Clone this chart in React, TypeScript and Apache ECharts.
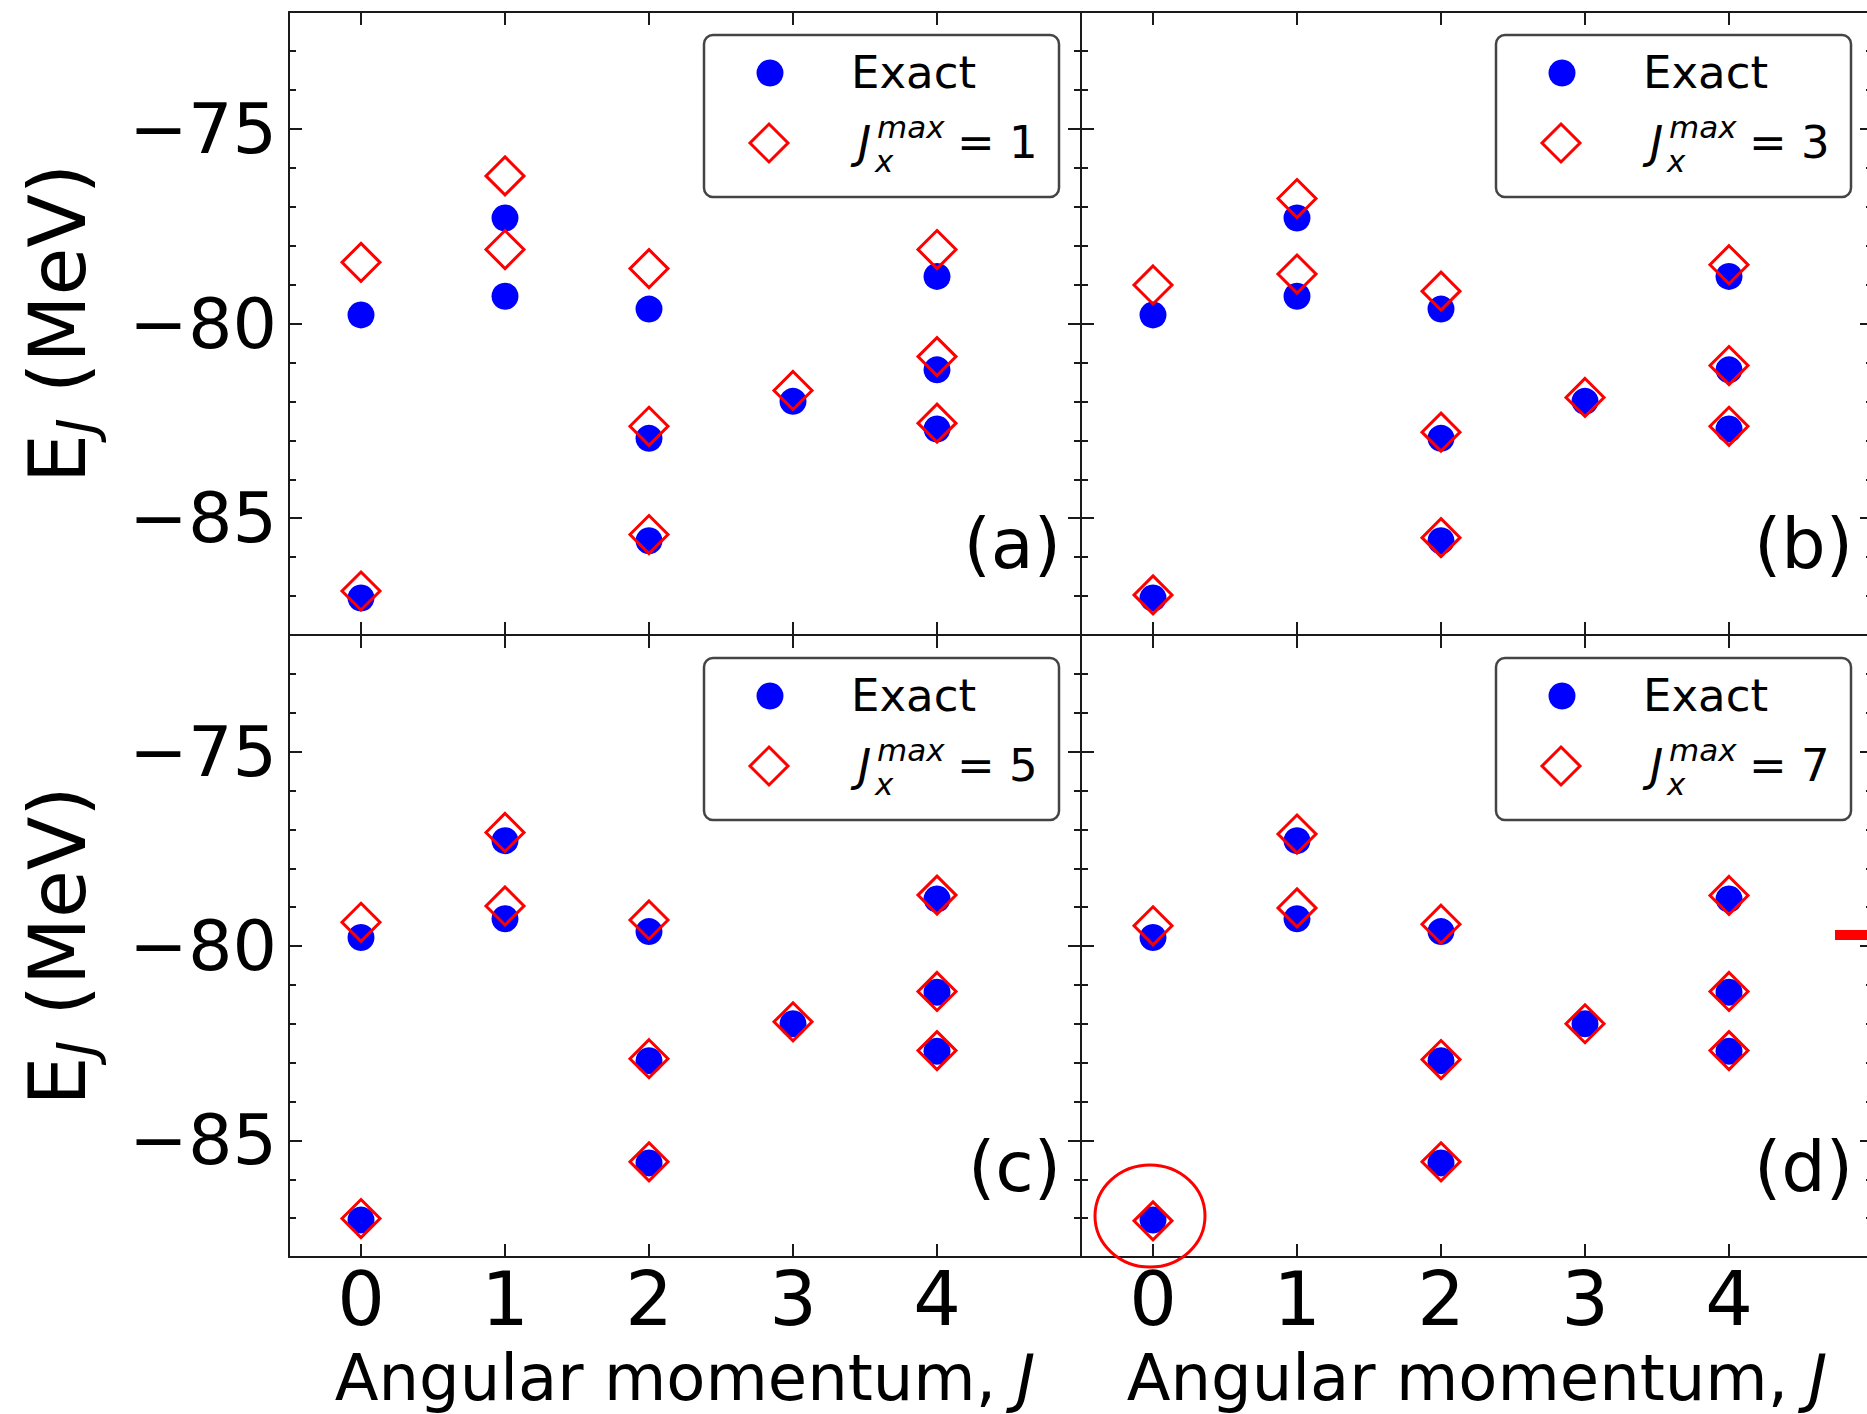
import React, { useEffect, useRef } from "react";
import * as echarts from "echarts";

// ---- data ----
const J_VALUES = [0, 0, 1, 1, 2, 2, 2, 3, 4, 4, 4];
const EXACT = [-79.78, -87.05, -77.29, -79.3, -79.63, -82.95, -85.58, -82.0, -78.79, -81.19, -82.71];
const JX_MAX_1 = [-78.43, -86.87, -76.21, -78.1, -78.59, -82.64, -85.42, -81.72, -78.1, -80.85, -82.56];
const JX_MAX_3 = [-79.01, -86.97, -76.79, -78.73, -79.17, -82.79, -85.5, -81.9, -78.49, -81.08, -82.64];
const JX_MAX_5 = [-79.39, -87.01, -77.08, -78.97, -79.33, -82.9, -85.55, -81.95, -78.69, -81.17, -82.69];
const JX_MAX_7 = [-79.48, -87.07, -77.12, -79.02, -79.44, -82.92, -85.55, -82.0, -78.7, -81.17, -82.69];
const APPROX = [JX_MAX_1, JX_MAX_3, JX_MAX_5, JX_MAX_7];
const JX_MAX = [1, 3, 5, 7];
const PANEL_LABELS = ["(a)", "(b)", "(c)", "(d)"];
const X_TICKS = [0, 1, 2, 3, 4];
const Y_TICKS = [-85, -80, -75];
const Y_MINOR_TICK_STEP = 1;
const X_RANGE = [-0.5, 5];
const Y_RANGE = [-88, -72];
const X_TITLE = "Angular momentum, {i|J}";
const Y_TITLE = "E{sub|J} (MeV)";

// ---- layout ----
const W = 1867;
const H = 1414;
const PW = 792;
const PANELS = [
  { left: 289, top: 12, height: 623, showX: false, showY: true },
  { left: 1081, top: 12, height: 623, showX: false, showY: false },
  { left: 289, top: 635, height: 622, showX: true, showY: true },
  { left: 1081, top: 635, height: 622, showX: true, showY: false },
];
const FONT = "DejaVu Sans";
const AX = "#1a1a1a";

function fmtY(v: number) {
  return v < 0 ? "\u2212" + Math.abs(v) : String(v);
}

export default function App() {
  const ref = useRef<HTMLDivElement>(null);
  useEffect(() => {
    if (!ref.current) return;
    const chart = echarts.init(ref.current, undefined, { renderer: "svg" });
    const grids: any[] = [];
    const xAxes: any[] = [];
    const yAxes: any[] = [];
    const series: any[] = [];
    const graphics: any[] = [];
    const lineStyle = { color: AX, width: 2 };

    PANELS.forEach((p, i) => {
      grids.push({
        left: p.left,
        top: p.top,
        width: PW,
        height: p.height,
        containLabel: false,
        outerBoundsMode: "none",
      });
      const xBase = {
        gridIndex: i,
        type: "value",
        min: X_RANGE[0],
        max: X_RANGE[1],
        splitLine: { show: false },
        axisLine: { show: true, onZero: false, lineStyle },
        axisTick: { show: true, inside: true, length: 13, customValues: X_TICKS, lineStyle },
      };
      xAxes.push({
        ...xBase,
        position: "bottom",
        axisLabel: {
          show: p.showX,
          customValues: X_TICKS,
          fontSize: 75,
          fontFamily: FONT,
          color: "#000",
          margin: 4,
        },
        name: p.showX ? X_TITLE : "",
        nameLocation: "middle",
        nameGap: 89,
        nameTextStyle: {
          fontSize: 64,
          fontFamily: FONT,
          color: "#000",
          lineHeight: 64,
          rich: { i: { fontStyle: "italic", fontSize: 64, fontFamily: FONT, color: "#000", lineHeight: 64 } },
        },
      });
      xAxes.push({ ...xBase, position: "top", axisLabel: { show: false } });

      const yBase = {
        gridIndex: i,
        type: "value",
        min: Y_RANGE[0],
        max: Y_RANGE[1],
        splitLine: { show: false },
      };
      yAxes.push({
        ...yBase,
        position: "left",
        axisLine: { show: true, onZero: false, lineStyle },
        axisTick: { show: true, inside: true, length: 13, customValues: Y_TICKS, lineStyle },
        axisLabel: {
          show: p.showY,
          customValues: Y_TICKS,
          formatter: fmtY,
          fontSize: 70,
          fontFamily: FONT,
          color: "#000",
          margin: 12,
        },
        name: p.showY ? Y_TITLE : "",
        nameLocation: "middle",
        nameGap: 186,
        nameTextStyle: {
          fontSize: 78,
          fontFamily: FONT,
          color: "#000",
          lineHeight: 90,
          rich: {
            sub: { fontSize: 54, fontStyle: "italic", fontFamily: FONT, color: "#000", lineHeight: 40, verticalAlign: "bottom" },
          },
        },
      });
      yAxes.push({
        ...yBase,
        position: "left",
        interval: Y_MINOR_TICK_STEP,
        axisLine: { show: false, onZero: false },
        axisTick: { show: true, inside: true, length: 7, lineStyle },
        axisLabel: { show: false },
      });
      yAxes.push({
        ...yBase,
        position: "right",
        axisLine: { show: true, onZero: false, lineStyle },
        axisTick: { show: true, inside: true, length: 13, customValues: Y_TICKS, lineStyle },
        axisLabel: { show: false },
      });
      yAxes.push({
        ...yBase,
        position: "right",
        interval: Y_MINOR_TICK_STEP,
        axisLine: { show: false, onZero: false },
        axisTick: { show: true, inside: true, length: 7, lineStyle },
        axisLabel: { show: false },
      });

      series.push({
        type: "scatter",
        name: "Exact",
        xAxisIndex: 2 * i,
        yAxisIndex: 4 * i,
        data: J_VALUES.map((j, k) => [j, EXACT[k]]),
        symbol: "circle",
        symbolSize: 27,
        itemStyle: { color: "#0000ff", opacity: 1 },
        silent: true,
        z: 3,
      });
      series.push({
        type: "scatter",
        name: "Jx max = " + JX_MAX[i],
        xAxisIndex: 2 * i,
        yAxisIndex: 4 * i,
        data: J_VALUES.map((j, k) => [j, APPROX[i][k]]),
        symbol: "diamond",
        symbolSize: 38,
        itemStyle: { color: "rgba(0,0,0,0)", borderColor: "#ff0000", borderWidth: 3, opacity: 1 },
        silent: true,
        z: 4,
      });

      // legend box
      const gl = p.left;
      const gt = p.top;
      const dc = { x: gl + 480, y: gt + 131 };
      const dh = 19;
      graphics.push(
        {
          type: "rect",
          silent: true,
          z: 10,
          shape: { x: gl + 415, y: gt + 23, width: 355, height: 162, r: 9 },
          style: { fill: "#ffffff", stroke: "#444444", lineWidth: 2.5 },
        },
        {
          type: "circle",
          silent: true,
          z: 11,
          shape: { cx: gl + 481, cy: gt + 61, r: 13.5 },
          style: { fill: "#0000ff" },
        },
        {
          type: "polygon",
          silent: true,
          z: 11,
          shape: {
            points: [
              [dc.x, dc.y - dh],
              [dc.x + dh, dc.y],
              [dc.x, dc.y + dh],
              [dc.x - dh, dc.y],
            ],
          },
          style: { fill: "none", stroke: "#ff0000", lineWidth: 3 },
        },
        {
          type: "text",
          silent: true,
          z: 11,
          x: gl + 562,
          y: gt + 60,
          style: { text: "Exact", fontSize: 45, fontFamily: FONT, fill: "#000", align: "left", verticalAlign: "middle" },
        },
        {
          type: "text",
          silent: true,
          z: 11,
          x: gl + 569,
          y: gt + 130,
          style: { text: "J", fontSize: 45, fontStyle: "italic", fontFamily: FONT, fill: "#000", align: "left", verticalAlign: "middle" },
        },
        {
          type: "text",
          silent: true,
          z: 11,
          x: gl + 588,
          y: gt + 115,
          style: { text: "max", fontSize: 31, fontStyle: "italic", fontFamily: FONT, fill: "#000", align: "left", verticalAlign: "middle" },
        },
        {
          type: "text",
          silent: true,
          z: 11,
          x: gl + 586,
          y: gt + 149,
          style: { text: "x", fontSize: 31, fontStyle: "italic", fontFamily: FONT, fill: "#000", align: "left", verticalAlign: "middle" },
        },
        {
          type: "text",
          silent: true,
          z: 11,
          x: gl + 668,
          y: gt + 130,
          style: { text: "= " + JX_MAX[i], fontSize: 45, fontFamily: FONT, fill: "#000", align: "left", verticalAlign: "middle" },
        },
        {
          type: "text",
          silent: true,
          z: 11,
          x: gl + 772,
          y: gt + 532,
          style: { text: PANEL_LABELS[i], fontSize: 70, fontFamily: FONT, fill: "#000", align: "right", verticalAlign: "middle" },
        }
      );
    });

    // annotations
    graphics.push(
      {
        type: "ellipse",
        silent: true,
        z: 12,
        shape: { cx: 1150, cy: 1216, rx: 55, ry: 51 },
        style: { fill: "none", stroke: "#ff0000", lineWidth: 3 },
      },
      {
        type: "rect",
        silent: true,
        z: 12,
        shape: { x: 1835, y: 930, width: 40, height: 10 },
        style: { fill: "#ff0000" },
      }
    );

    chart.setOption({
      animation: false,
      backgroundColor: "#ffffff",
      grid: grids,
      xAxis: xAxes,
      yAxis: yAxes,
      series,
      graphic: { elements: graphics },
    });
    return () => chart.dispose();
  }, []);
  return <div ref={ref} style={{ position: "absolute", left: 0, top: 0, width: W, height: H }} />;
}
